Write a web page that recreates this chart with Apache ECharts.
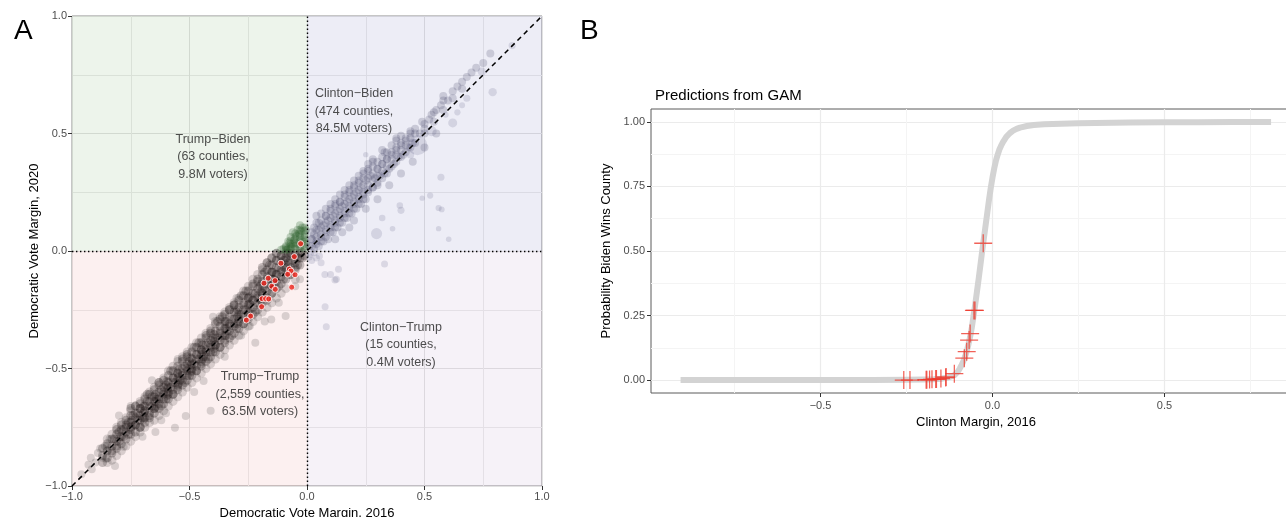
<!DOCTYPE html>
<html><head><meta charset="utf-8">
<script src="https://cdn.jsdelivr.net/npm/echarts@6.0.0/dist/echarts.min.js"></script>
<style>html,body{margin:0;padding:0;background:#fff}#c{width:1286px;height:517px}</style>
</head><body><div id="c"></div>
<script>
// ---------- Panel A data (x = Dem margin 2016, y = Dem margin 2020) ----------
const ttCore = [
[-0.83,-0.85],[-0.82,-0.8],[-0.81,-0.83],[-0.8,-0.77],[-0.8,-0.81],
[-0.78,-0.79],[-0.77,-0.74],[-0.76,-0.78],[-0.76,-0.73],[-0.75,-0.76],[-0.78,-0.76],
[-0.73,-0.74],[-0.72,-0.69],[-0.72,-0.72],[-0.71,-0.67],[-0.7,-0.71],[-0.71,-0.75],[-0.74,-0.7],
[-0.69,-0.68],[-0.68,-0.64],[-0.67,-0.7],[-0.66,-0.66],[-0.66,-0.62],[-0.65,-0.67],[-0.64,-0.63],[-0.68,-0.61],
[-0.63,-0.63],[-0.62,-0.59],[-0.62,-0.66],[-0.61,-0.61],[-0.6,-0.57],[-0.6,-0.63],[-0.59,-0.6],[-0.63,-0.56],
[-0.58,-0.58],[-0.57,-0.54],[-0.57,-0.61],[-0.56,-0.56],[-0.55,-0.52],[-0.55,-0.58],[-0.54,-0.55],[-0.58,-0.51],
[-0.53,-0.53],[-0.52,-0.49],[-0.52,-0.56],[-0.51,-0.51],[-0.5,-0.47],[-0.5,-0.53],[-0.49,-0.5],[-0.53,-0.46],[-0.51,-0.44],
[-0.48,-0.48],[-0.47,-0.44],[-0.47,-0.51],[-0.46,-0.46],[-0.45,-0.42],[-0.45,-0.48],[-0.44,-0.45],[-0.48,-0.41],[-0.46,-0.39],
[-0.43,-0.43],[-0.42,-0.39],[-0.42,-0.46],[-0.41,-0.41],[-0.4,-0.37],[-0.4,-0.43],[-0.39,-0.4],[-0.43,-0.36],[-0.41,-0.34],
[-0.38,-0.37],[-0.37,-0.34],[-0.37,-0.41],[-0.36,-0.36],[-0.35,-0.31],[-0.35,-0.38],[-0.34,-0.34],[-0.38,-0.3],[-0.36,-0.28],
[-0.33,-0.32],[-0.32,-0.29],[-0.32,-0.36],[-0.31,-0.31],[-0.3,-0.26],[-0.3,-0.33],[-0.29,-0.29],[-0.33,-0.25],[-0.31,-0.23],
[-0.28,-0.27],[-0.27,-0.23],[-0.27,-0.31],[-0.26,-0.25],[-0.25,-0.2],[-0.25,-0.28],[-0.24,-0.23],[-0.28,-0.19],[-0.26,-0.17],
[-0.23,-0.21],[-0.22,-0.18],[-0.22,-0.26],[-0.21,-0.2],[-0.2,-0.15],[-0.2,-0.23],[-0.19,-0.18],[-0.23,-0.14],[-0.21,-0.12],
[-0.18,-0.16],[-0.17,-0.12],[-0.17,-0.21],[-0.16,-0.14],[-0.15,-0.09],[-0.15,-0.18],[-0.14,-0.12],[-0.18,-0.09],[-0.16,-0.06],
[-0.13,-0.1],[-0.12,-0.07],[-0.12,-0.15],[-0.11,-0.09],[-0.1,-0.04],[-0.1,-0.12],[-0.09,-0.07],[-0.13,-0.04],[-0.11,-0.02],
[-0.08,-0.05],[-0.07,-0.02],[-0.07,-0.1],[-0.06,-0.04],[-0.05,-0.01],[-0.05,-0.07],[-0.04,-0.03],[-0.08,-0.01],
[-0.03,-0.01],[-0.02,-0.03],[-0.02,-0.005],[-0.01,-0.02],[-0.04,-0.06],
[-0.795,-0.79],[-0.745,-0.745],[-0.695,-0.69],[-0.645,-0.64],[-0.595,-0.585],[-0.545,-0.535],[-0.495,-0.485],
[-0.445,-0.43],[-0.395,-0.385],[-0.345,-0.33],[-0.295,-0.28],[-0.245,-0.225],[-0.195,-0.175],[-0.145,-0.12],[-0.095,-0.07],
[-0.745,-0.72],[-0.695,-0.66],[-0.645,-0.61],[-0.595,-0.555],[-0.545,-0.505],[-0.495,-0.455],[-0.445,-0.4],
[-0.395,-0.355],[-0.345,-0.3],[-0.295,-0.25],[-0.245,-0.195],[-0.195,-0.14],[-0.145,-0.09],[-0.095,-0.04],
[-0.695,-0.715],[-0.645,-0.665],[-0.595,-0.615],[-0.545,-0.565],[-0.495,-0.515],[-0.445,-0.46],[-0.395,-0.415],
[-0.345,-0.36],[-0.295,-0.31],[-0.245,-0.26],[-0.195,-0.21]
];
// extra Trump-Trump counties, by column: [2016 margin, [2020 margins]]
const ttCols = [
[-0.87,[-0.9,-0.87,-0.84]],[-0.85,[-0.88,-0.85,-0.82]],[-0.83,[-0.86,-0.83,-0.8]],[-0.81,[-0.84,-0.81,-0.78,-0.76]],
[-0.79,[-0.82,-0.79,-0.76,-0.74]],[-0.77,[-0.8,-0.77,-0.75,-0.72]],[-0.75,[-0.78,-0.75,-0.73,-0.7,-0.67]],
[-0.73,[-0.77,-0.74,-0.71,-0.69,-0.66]],[-0.71,[-0.75,-0.72,-0.7,-0.67,-0.65]],[-0.69,[-0.73,-0.71,-0.68,-0.66,-0.63]],
[-0.67,[-0.71,-0.69,-0.66,-0.64,-0.61]],[-0.65,[-0.69,-0.67,-0.64,-0.62,-0.59]],[-0.63,[-0.67,-0.65,-0.62,-0.6,-0.57]],
[-0.61,[-0.65,-0.63,-0.6,-0.58,-0.55]],[-0.59,[-0.63,-0.61,-0.58,-0.56,-0.53]],[-0.57,[-0.61,-0.59,-0.56,-0.54,-0.51]],
[-0.55,[-0.59,-0.57,-0.54,-0.52,-0.49]],[-0.53,[-0.57,-0.55,-0.52,-0.5,-0.47]],[-0.51,[-0.55,-0.53,-0.5,-0.48,-0.45]],
[-0.49,[-0.53,-0.51,-0.48,-0.46,-0.43]],[-0.47,[-0.51,-0.49,-0.46,-0.44,-0.41]],[-0.45,[-0.49,-0.47,-0.44,-0.42,-0.39]],
[-0.43,[-0.47,-0.45,-0.42,-0.4,-0.37]],[-0.41,[-0.45,-0.43,-0.4,-0.38,-0.35]],[-0.39,[-0.43,-0.4,-0.37,-0.34,-0.31]],
[-0.37,[-0.41,-0.38,-0.35,-0.32,-0.29]],[-0.35,[-0.39,-0.36,-0.33,-0.3,-0.27]],[-0.33,[-0.37,-0.34,-0.31,-0.28,-0.25]],
[-0.31,[-0.35,-0.32,-0.29,-0.26,-0.23]],[-0.29,[-0.33,-0.3,-0.27,-0.24,-0.21]],[-0.27,[-0.31,-0.28,-0.25,-0.22,-0.19]],
[-0.25,[-0.29,-0.26,-0.23,-0.2,-0.17]],[-0.23,[-0.27,-0.24,-0.21,-0.18,-0.15]],[-0.21,[-0.25,-0.22,-0.19,-0.16,-0.13]],
[-0.19,[-0.22,-0.19,-0.16,-0.13,-0.1,-0.07]],[-0.17,[-0.2,-0.17,-0.14,-0.11,-0.08,-0.05]],[-0.15,[-0.18,-0.15,-0.12,-0.09,-0.06,-0.03]],
[-0.13,[-0.16,-0.13,-0.1,-0.07,-0.04,-0.01]],[-0.11,[-0.14,-0.11,-0.08,-0.05,-0.02]],[-0.09,[-0.12,-0.09,-0.06,-0.03,-0.01]],
[-0.07,[-0.1,-0.07,-0.04,-0.01]],[-0.05,[-0.08,-0.05,-0.02]],[-0.03,[-0.06,-0.03]]
];
// fringe of the Trump-Trump band
const ttEdgeCols = [
[-0.85,[-0.8,-0.9]],[-0.83,[-0.78,-0.89]],[-0.81,[-0.75,-0.87]],[-0.79,[-0.73,-0.85]],[-0.77,[-0.71,-0.83]],
[-0.75,[-0.68,-0.81]],[-0.73,[-0.66,-0.79]],[-0.71,[-0.64,-0.77]],[-0.69,[-0.62,-0.75]],[-0.67,[-0.6,-0.73]],
[-0.65,[-0.58,-0.72]],[-0.63,[-0.56,-0.7]],[-0.61,[-0.54,-0.68]],[-0.59,[-0.51,-0.66]],[-0.57,[-0.49,-0.64]],
[-0.55,[-0.47,-0.62]],[-0.53,[-0.45,-0.6]],[-0.51,[-0.43,-0.58]],[-0.49,[-0.41,-0.56]],[-0.47,[-0.39,-0.54]],
[-0.45,[-0.37,-0.52]],[-0.43,[-0.35,-0.5]],[-0.41,[-0.33,-0.48]],[-0.39,[-0.3,-0.46]],[-0.37,[-0.28,-0.44]],
[-0.35,[-0.26,-0.42]],[-0.33,[-0.24,-0.4]],[-0.31,[-0.22,-0.38]],[-0.29,[-0.2,-0.36]],[-0.27,[-0.17,-0.34]],
[-0.25,[-0.15,-0.32]],[-0.23,[-0.12,-0.3]],[-0.21,[-0.1,-0.28]],[-0.19,[-0.08,-0.26]],[-0.17,[-0.05,-0.24]],
[-0.15,[-0.03,-0.22]],[-0.13,[-0.01,-0.2]],[-0.11,[-0.18]],[-0.09,[-0.16]],[-0.05,[-0.12]]
];
const ttSparse = [
[-0.96,-0.95],[-0.93,-0.91],[-0.92,-0.88],[-0.9,-0.9],[-0.89,-0.86],[-0.88,-0.84],[-0.87,-0.88],[-0.86,-0.83],[-0.85,-0.85],[-0.84,-0.8],
[-0.851,-0.83],[-0.817,-0.915],[-0.916,-0.929],[-0.856,-0.884],[-0.78,-0.833],[-0.645,-0.77],[-0.41,-0.68],[-0.562,-0.752],
[-0.516,-0.702],[-0.44,-0.553],[-0.22,-0.39],[-0.091,-0.277],[-0.152,-0.291],[-0.243,-0.319],[-0.6,-0.69],[-0.7,-0.79],
[-0.35,-0.45],[-0.12,-0.22],[-0.05,-0.15],[-0.3,-0.2],[-0.55,-0.46],[-0.75,-0.66],[-0.03,-0.12],[-0.18,-0.3],
[-0.66,-0.55],[-0.48,-0.6],[-0.28,-0.36],[-0.62,-0.72],[-0.8,-0.7],[-0.4,-0.28]
];
const tbPts = [
[-0.1,0.01],[-0.09,0.02],[-0.08,0.01],[-0.08,0.04],[-0.07,0.02],[-0.07,0.06],[-0.06,0.03],[-0.06,0.08],[-0.05,0.01],[-0.05,0.05],
[-0.04,0.03],[-0.04,0.09],[-0.03,0.02],[-0.03,0.06],[-0.02,0.04],[-0.02,0.1],[-0.01,0.02],[-0.01,0.07],[-0.015,0.05],[-0.035,0.075],
[-0.055,0.045],[-0.065,0.015],[-0.025,0.085],[-0.045,0.065],[-0.075,0.035],[-0.11,0.005],[-0.085,0.005],[-0.005,0.03],[-0.005,0.09],[-0.03,0.11],
[-0.09,0.005],[-0.09,0.015],[-0.07,0.01],[-0.07,0.03],[-0.07,0.045],[-0.05,0.02],[-0.05,0.035],[-0.05,0.06],[-0.05,0.075],
[-0.03,0.01],[-0.03,0.04],[-0.03,0.07],[-0.03,0.09],[-0.01,0.01],[-0.01,0.04],[-0.01,0.06],[-0.01,0.085],[-0.01,0.1]
];
const cbPts = [
[0.01,0.02],[0.02,0.05],[0.03,0.01],[0.03,0.07],[0.04,0.04],[0.05,0.09],[0.05,0.02],[0.06,0.06],[0.07,0.11],[0.07,0.04],
[0.08,0.08],[0.09,0.13],[0.09,0.05],[0.1,0.1],[0.11,0.15],[0.11,0.08],[0.12,0.12],[0.13,0.17],[0.13,0.1],[0.14,0.14],
[0.15,0.19],[0.15,0.12],[0.16,0.16],[0.17,0.21],[0.17,0.14],[0.18,0.18],[0.19,0.23],[0.19,0.16],[0.2,0.2],[0.21,0.25],
[0.21,0.18],[0.22,0.22],[0.23,0.27],[0.23,0.2],[0.24,0.24],[0.25,0.3],[0.25,0.22],[0.26,0.26],[0.27,0.32],[0.28,0.27],
[0.29,0.31],[0.3,0.35],[0.3,0.28],[0.31,0.32],[0.32,0.37],[0.33,0.33],[0.34,0.39],[0.35,0.35],[0.36,0.41],[0.37,0.37],
[0.38,0.43],[0.39,0.4],[0.4,0.45],[0.41,0.41],[0.42,0.47],[0.43,0.44],[0.44,0.5],[0.45,0.46],[0.46,0.52],[0.48,0.5],
[0.49,0.55],[0.5,0.52],[0.52,0.56],[0.53,0.58],[0.55,0.6],[0.57,0.62],[0.58,0.66],[0.6,0.64],[0.62,0.68],[0.64,0.7],
[0.66,0.72],[0.68,0.74],[0.7,0.76],[0.72,0.78],[0.75,0.8],[0.78,0.84],
[0.05,0.12],[0.1,0.18],[0.14,0.21],[0.18,0.26],[0.22,0.3],[0.26,0.35],[0.2,0.28],[0.12,0.2],[0.08,0.15],[0.16,0.24],
[0.28,0.38],[0.33,0.42],[0.38,0.48],[0.03,0.1],[0.24,0.33],
[0.15,0.08],[0.2,0.13],[0.25,0.18],[0.3,0.22],[0.35,0.28],[0.4,0.33],[0.45,0.38],[0.12,0.05],[0.18,0.1],[0.5,0.44],[0.55,0.5]
];
const cbCols = [
[0.02,[0.02,0.05,0.08]],[0.04,[0.03,0.06,0.09,0.12,0.15]],[0.06,[0.04,0.07,0.1,0.13,0.16]],[0.08,[0.06,0.09,0.12,0.15,0.18]],
[0.1,[0.08,0.11,0.14,0.17,0.2]],[0.12,[0.1,0.13,0.16,0.19,0.22]],[0.14,[0.12,0.15,0.18,0.21,0.24]],[0.16,[0.14,0.17,0.2,0.23,0.26]],
[0.18,[0.16,0.19,0.22,0.25,0.28]],[0.2,[0.18,0.21,0.24,0.27,0.3]],[0.22,[0.2,0.23,0.26,0.29,0.32]],[0.24,[0.22,0.25,0.28,0.31,0.34]],
[0.26,[0.25,0.28,0.31,0.34,0.37]],[0.28,[0.27,0.3,0.33,0.36,0.39]],[0.3,[0.29,0.32,0.35,0.38]],[0.32,[0.31,0.34,0.37,0.4,0.43]],
[0.34,[0.33,0.36,0.39,0.42]],[0.36,[0.36,0.39,0.42,0.45]],[0.38,[0.38,0.41,0.44,0.47]],[0.4,[0.4,0.43,0.46,0.49]],
[0.42,[0.42,0.45,0.48]],[0.44,[0.44,0.48,0.51]],[0.46,[0.46,0.5]],[0.5,[0.5,0.54]],[0.54,[0.55,0.59]],[0.58,[0.6,0.64]],
[0.62,[0.65]],[0.66,[0.69]]
];
// big counties: [x, y, votes in thousands]
const cbBig = [
[0.47,0.45,4000],[0.53,0.51,600],[0.62,0.545,400],[0.79,0.676,300],[0.296,0.074,800],[0.40,0.173,150],[0.57,0.314,150],
[0.56,0.183,80],[0.744,0.763,300],[0.873,0.874,150],[0.32,0.14,100],[0.524,0.236,80],[0.603,0.05,40],[0.56,0.095,30],
[0.573,0.177,60],[0.49,0.225,30],[0.395,0.194,100],[0.364,0.095,40],[0.66,0.62,60],[0.68,0.65,150],[0.64,0.59,80],
[0.59,0.58,60],[0.44,0.41,200],[0.25,0.41,30]
];
const ctPts = [
[0.015,-0.014],[0.03,-0.007],[0.053,-0.021],[0.076,-0.1],[0.1,-0.1],[0.125,-0.12],[0.134,-0.078],[0.33,-0.055],
[0.077,-0.237],[0.082,-0.322],[0.119,-0.123],[0.04,-0.03],[0.02,-0.04],[0.06,-0.05],[0.01,-0.025]
];
// highlighted counties (red): 2016 margin, 2020 margin, GAM probability
const redX2016 = [-0.027,-0.054,-0.111,-0.075,-0.068,-0.082,-0.051,-0.165,-0.136,-0.183,-0.150,-0.135,-0.065,-0.191,-0.176,-0.163,-0.193,-0.240,-0.258];
const redY2020 = [0.031,-0.024,-0.052,-0.077,-0.085,-0.099,-0.101,-0.116,-0.126,-0.137,-0.150,-0.163,-0.154,-0.203,-0.203,-0.204,-0.237,-0.277,-0.294];
const redProb  = [0.53,0.27,0.025,0.11,0.155,0.085,0.27,0.004,0.01,0.002,0.006,0.012,0.18,0.001,0.003,0.004,0.001,0,0];
const refLine = [[-1,-1],[1,1]];
const quadText = ['Clinton\u2212Biden\n(474 counties,\n84.5M voters)','Trump\u2212Biden\n(63 counties,\n9.8M voters)',
                  'Clinton\u2212Trump\n(15 counties,\n0.4M voters)','Trump\u2212Trump\n(2,559 counties,\n63.5M voters)'];
const quadX = [0.20,-0.40,0.40,-0.20];
const quadY = [0.595,0.40,-0.40,-0.61];
// ---------- Panel B data ----------
const gamX = [-0.907,-0.7,-0.5,-0.35,-0.25,-0.2,-0.17,-0.15,-0.13,-0.12,-0.11,-0.105,-0.1,-0.095,-0.09,-0.085,-0.08,-0.075,-0.07,-0.065,-0.06,-0.055,-0.05,-0.045,-0.04,-0.035,-0.03,-0.025,-0.02,-0.015,-0.01,-0.005,0,0.005,0.01,0.015,0.02,0.025,0.03,0.04,0.05,0.06,0.07,0.08,0.1,0.12,0.15,0.2,0.25,0.3,0.4,0.5,0.6,0.7,0.81];
const gamY = [0,0,0,0,0.001,0.002,0.003,0.005,0.01,0.014,0.02,0.026,0.034,0.045,0.058,0.072,0.09,0.112,0.138,0.168,0.205,0.25,0.295,0.345,0.395,0.447,0.5,0.55,0.6,0.65,0.7,0.745,0.785,0.82,0.85,0.873,0.893,0.908,0.921,0.942,0.956,0.966,0.973,0.978,0.984,0.988,0.991,0.993,0.995,0.996,0.998,0.999,0.999,1.0,1.0];
const ticksBx = [-0.5,0,0.5];
const minorBx = [-0.75,-0.25,0.25,0.75];
const ticksBy = [0,0.25,0.5,0.75,1];
const minorBy = [0.125,0.375,0.625,0.875];

const FONT = '"Liberation Sans", Arial, sans-serif';
const minus = v => (v < 0 ? '\u2212' : '') + Math.abs(v).toFixed(1);
const flatCols = cols => cols.flatMap(c => c[1].map(y => [c[0], y]));
const chart = echarts.init(document.getElementById('c'));

const axisCommon = {
  axisLine:{show:false,onZero:false},
  axisTick:{show:true,length:4,lineStyle:{color:'#333',width:1}},
  axisLabel:{color:'#4d4d4d',fontSize:11,fontFamily:FONT,margin:6},
  nameTextStyle:{color:'#000',fontSize:13,fontFamily:FONT}
};
const hiddenAxis = {axisLine:{show:false,onZero:false},axisLabel:{show:false}};

chart.setOption({
  animation:false,
  textStyle:{fontFamily:FONT},
  title:[
    {text:'A',left:9,top:12,textStyle:{fontSize:28,fontWeight:'normal',color:'#000',fontFamily:FONT}},
    {text:'B',left:575,top:12,textStyle:{fontSize:28,fontWeight:'normal',color:'#000',fontFamily:FONT}},
    {text:'Predictions from GAM',left:650,top:83,textStyle:{fontSize:15,fontWeight:'normal',color:'#000',fontFamily:FONT}}
  ],
  grid:[
    {left:72,top:16,width:470,height:470,show:true,borderColor:'#8c8c8c',borderWidth:1,backgroundColor:'#fff',outerBoundsMode:'none'},
    {left:651,top:109,width:650,height:284,show:true,borderColor:'#5a5a5a',borderWidth:1,backgroundColor:'#fff',outerBoundsMode:'none'}
  ],
  xAxis:[
    Object.assign({},axisCommon,{gridIndex:0,type:'value',min:-1,max:1,interval:0.5,
      axisLabel:Object.assign({},axisCommon.axisLabel,{formatter:minus,margin:5}),
      splitLine:{show:true,lineStyle:{color:'#e2e2e2',width:1}},
      minorTick:{show:false,splitNumber:2},minorSplitLine:{show:true,lineStyle:{color:'#ebebeb',width:1}},
      name:'Democratic Vote Margin, 2016',nameLocation:'middle',nameGap:17}),
    Object.assign({},axisCommon,{gridIndex:1,type:'value',min:-0.993,max:0.897,
      axisTick:Object.assign({},axisCommon.axisTick,{customValues:ticksBx}),
      axisLabel:Object.assign({},axisCommon.axisLabel,{customValues:ticksBx,formatter:minus,margin:7}),
      splitLine:{show:true,lineStyle:{color:'#ebebeb',width:1.2}},
      name:'Clinton Margin, 2016',nameLocation:'middle',nameGap:21}),
    Object.assign({},hiddenAxis,{gridIndex:1,type:'value',min:-0.993,max:0.897,position:'bottom',
      axisTick:{show:false,customValues:minorBx},
      splitLine:{show:true,lineStyle:{color:'#f4f4f4',width:1}}})
  ],
  yAxis:[
    Object.assign({},axisCommon,{gridIndex:0,type:'value',min:-1,max:1,interval:0.5,
      axisLabel:Object.assign({},axisCommon.axisLabel,{formatter:minus,margin:5}),
      splitLine:{show:true,lineStyle:{color:'#e2e2e2',width:1}},
      minorTick:{show:false,splitNumber:2},minorSplitLine:{show:true,lineStyle:{color:'#ebebeb',width:1}},
      name:'Democratic Vote Margin, 2020',nameLocation:'middle',nameGap:30}),
    Object.assign({},axisCommon,{gridIndex:1,type:'value',min:-0.05,max:1.05,
      axisTick:Object.assign({},axisCommon.axisTick,{customValues:ticksBy}),
      axisLabel:Object.assign({},axisCommon.axisLabel,{customValues:ticksBy,formatter:v=>v.toFixed(2),margin:6}),
      splitLine:{show:true,lineStyle:{color:'#ebebeb',width:1.2}},
      name:'Probability Biden Wins County',nameLocation:'middle',nameGap:30}),
    Object.assign({},hiddenAxis,{gridIndex:1,type:'value',min:-0.05,max:1.05,position:'left',
      axisTick:{show:false,customValues:minorBy},
      splitLine:{show:true,lineStyle:{color:'#f4f4f4',width:1}}})
  ],
  series:[
    {type:'scatter',xAxisIndex:0,yAxisIndex:0,data:[],z:1,silent:true,
      markArea:{silent:true,data:[
        [{coord:[-1,0],itemStyle:{color:'rgba(60,140,40,0.095)'}},{coord:[0,1]}],
        [{coord:[0,0],itemStyle:{color:'rgba(80,80,170,0.1)'}},{coord:[1,1]}],
        [{coord:[-1,-1],itemStyle:{color:'rgba(225,105,105,0.1)'}},{coord:[0,0]}],
        [{coord:[0,-1],itemStyle:{color:'rgba(165,125,185,0.1)'}},{coord:[1,0]}]
      ]}},
    {type:'scatter',xAxisIndex:0,yAxisIndex:0,data:ttSparse,symbolSize:8,z:2,silent:true,
      itemStyle:{color:'#000',opacity:0.14}},
    {type:'scatter',xAxisIndex:0,yAxisIndex:0,data:flatCols(ttEdgeCols),symbolSize:9,z:2,silent:true,
      itemStyle:{color:'#1a1414',opacity:0.16}},
    {type:'scatter',xAxisIndex:0,yAxisIndex:0,data:ttCore.concat(flatCols(ttCols)),symbolSize:9,z:2,silent:true,
      itemStyle:{color:'#1a1212',opacity:0.25}},
    {type:'scatter',xAxisIndex:0,yAxisIndex:0,data:tbPts,symbolSize:8,z:2,silent:true,
      itemStyle:{color:'#2c5e2c',opacity:0.25}},
    {type:'scatter',xAxisIndex:0,yAxisIndex:0,data:cbPts.concat(flatCols(cbCols)),symbolSize:8,z:2,silent:true,
      itemStyle:{color:'#3a3a60',opacity:0.2}},
    {type:'scatter',xAxisIndex:0,yAxisIndex:0,data:cbBig,symbolSize:d=>4+0.25*Math.sqrt(d[2]),z:2,silent:true,
      itemStyle:{color:'#55557a',opacity:0.17}},
    {type:'scatter',xAxisIndex:0,yAxisIndex:0,data:ctPts,symbolSize:7,z:2,silent:true,
      itemStyle:{color:'#6e6e90',opacity:0.2}},
    {type:'line',xAxisIndex:0,yAxisIndex:0,data:refLine,showSymbol:false,z:3,silent:true,
      lineStyle:{color:'#000',width:1.5,type:[5,4]},
      markLine:{silent:true,symbol:'none',label:{show:false},
        lineStyle:{color:'#000',width:1.4,type:[1.4,2.6]},data:[{xAxis:0},{yAxis:0}]}},
    {type:'scatter',xAxisIndex:0,yAxisIndex:0,data:redX2016.map((x,i)=>[x,redY2020[i]]),symbolSize:6,z:4,silent:true,
      itemStyle:{color:'#f0241c',borderColor:'#fff',borderWidth:1}},
    {type:'scatter',xAxisIndex:0,yAxisIndex:0,data:quadText.map((t,i)=>[quadX[i],quadY[i],t]),symbolSize:0,z:5,silent:true,
      label:{show:true,position:'inside',formatter:p=>p.data[2],color:'#222',fontSize:12.5,lineHeight:17.5,align:'center',fontFamily:FONT}},
    // Panel B
    {type:'line',xAxisIndex:1,yAxisIndex:1,data:gamX.map((x,i)=>[x,gamY[i]]),showSymbol:false,smooth:false,
      z:2,silent:true,lineStyle:{color:'#d3d3d3',width:6,cap:'butt',join:'round'}},
    {type:'scatter',xAxisIndex:1,yAxisIndex:1,data:redX2016.map((x,i)=>[x,redProb[i]]),z:3,silent:true,
      symbol:'path://M-1,-0.07L1,-0.07L1,0.07L-1,0.07Z M-0.07,-1L0.07,-1L0.07,1L-0.07,1Z',symbolSize:[18,18],
      itemStyle:{color:'#ee3b2e'}}
  ]
});
</script></body></html>
